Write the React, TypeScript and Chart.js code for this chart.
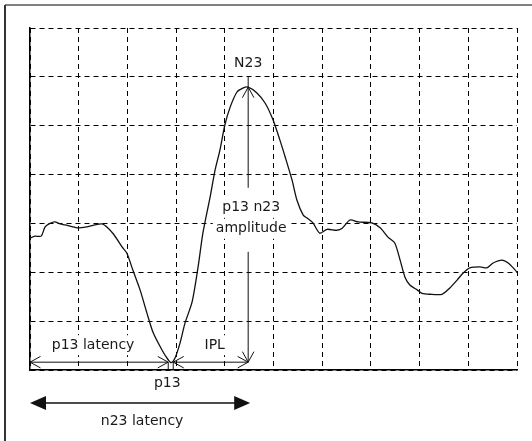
import React, { useEffect, useRef } from "react";
import { Chart, registerables } from "chart.js";

Chart.register(...registerables);

// Waveform (x: grid divisions 0..10, y: grid divisions 0..7)
const waveX = [
  0.0, 0.1, 0.23, 0.31, 0.41, 0.51, 0.62, 0.72, 0.97, 1.17, 1.48, 1.7, 1.89, 1.99,
  2.11, 2.26, 2.4, 2.53, 2.71, 2.83, 2.9, 2.98, 3.08, 3.18, 3.33, 3.45, 3.55, 3.7,
  3.8, 3.9, 4.0, 4.11, 4.25, 4.37, 4.48, 4.66, 4.83, 4.99, 5.13, 5.24, 5.38, 5.48,
  5.61, 5.69, 5.81, 5.95, 6.1, 6.3, 6.41, 6.57, 6.74, 7.02, 7.19, 7.35, 7.49, 7.6,
  7.7, 7.8, 7.95, 8.05, 8.21, 8.46, 8.62, 8.77, 8.89, 9.03, 9.24, 9.38, 9.51, 9.69,
  9.82, 9.96, 10.0,
];
const waveY = [
  2.7, 2.74, 2.74, 2.93, 3.0, 3.03, 2.99, 2.97, 2.91, 2.93, 2.99, 2.8, 2.52, 2.39,
  2.05, 1.64, 1.17, 0.76, 0.41, 0.22, 0.15, 0.25, 0.55, 0.95, 1.4, 2.1, 2.8, 3.55,
  4.09, 4.5, 5.01, 5.38, 5.69, 5.77, 5.79, 5.67, 5.46, 5.12, 4.71, 4.36, 3.89, 3.48,
  3.17, 3.11, 3.01, 2.8, 2.88, 2.86, 2.9, 3.07, 3.03, 3.01, 2.91, 2.72, 2.6, 2.25,
  1.9, 1.74, 1.64, 1.57, 1.55, 1.55, 1.68, 1.84, 1.98, 2.09, 2.11, 2.09, 2.19, 2.25,
  2.19, 2.05, 2.0,
];

// Landmarks
const p13Point = { x: 2.9, y: 0.15 };
const n23Point = { x: 4.48, y: 5.79 };
const arrowLevel = 0.16;
const ampLabelY = [3.32, 2.89];

const labelN23 = "N23";
const labelAmp = ["p13 n23", "amplitude"];
const labelP13Lat = "p13 latency";
const labelIPL = "IPL";
const labelP13 = "p13";
const labelN23Lat = "n23 latency";

const FONT = "14px 'DejaVu Sans', sans-serif";

function openHead(ctx: CanvasRenderingContext2D, tx: number, ty: number, ang: number) {
  const len = 12;
  const spread = 0.5;
  ctx.beginPath();
  ctx.moveTo(tx - len * Math.cos(ang - spread), ty - len * Math.sin(ang - spread));
  ctx.lineTo(tx, ty);
  ctx.lineTo(tx - len * Math.cos(ang + spread), ty - len * Math.sin(ang + spread));
  ctx.stroke();
}

function filledHead(ctx: CanvasRenderingContext2D, tx: number, ty: number, dir: number) {
  ctx.beginPath();
  ctx.moveTo(tx, ty);
  ctx.lineTo(tx - dir * 16, ty - 7);
  ctx.lineTo(tx - dir * 16, ty + 7);
  ctx.closePath();
  ctx.fill();
}

function boxedText(ctx: CanvasRenderingContext2D, text: string, x: number, y: number, box: boolean) {
  if (box) {
    const w = ctx.measureText(text).width;
    ctx.save();
    ctx.fillStyle = "#fff";
    ctx.fillRect(x - w / 2 - 3, y - 10, w + 6, 20);
    ctx.restore();
  }
  ctx.fillText(text, x, y);
}

const annotationPlugin = {
  id: "eegAnnotations",
  afterDraw(chart: any) {
    const { ctx, scales, chartArea } = chart;
    const xs = scales.x;
    const ys = scales.y;
    const px = (v: number) => xs.getPixelForValue(v);
    const py = (v: number) => ys.getPixelForValue(v);
    ctx.save();

    // outer frame
    ctx.strokeStyle = "#808080";
    ctx.lineWidth = 2;
    ctx.beginPath();
    ctx.moveTo(5, 5);
    ctx.lineTo(chart.width, 5);
    ctx.stroke();
    ctx.strokeStyle = "#333";
    ctx.beginPath();
    ctx.moveTo(5, 5);
    ctx.lineTo(5, chart.height);
    ctx.stroke();

    const xP = px(p13Point.x);
    const xN = px(n23Point.x);
    const yA = py(arrowLevel);
    const yPk = py(n23Point.y);
    const xL = px(0);
    const xPl = xP - 3;
    const xPr = xP + 2;

    // texts (with white boxes inside the plot)
    ctx.font = FONT;
    ctx.fillStyle = "#1a1a1a";
    ctx.textAlign = "center";
    ctx.textBaseline = "middle";
    boxedText(ctx, labelN23, xN, py(6) - 13, false);
    boxedText(ctx, labelAmp[0], xN + 3, py(ampLabelY[0]), true);
    boxedText(ctx, labelAmp[1], xN + 3, py(ampLabelY[1]), true);
    boxedText(ctx, labelP13Lat, (xL + xPl) / 2 - 6, yA - 17, true);
    boxedText(ctx, labelIPL, (xPr + xN) / 2 + 4, yA - 17, true);
    boxedText(ctx, labelP13, xP - 4, chartArea.bottom + 13, false);
    boxedText(ctx, labelN23Lat, (xL + xN) / 2 + 3, chartArea.bottom + 51, false);

    ctx.strokeStyle = "#111";
    ctx.fillStyle = "#111";
    ctx.lineWidth = 1;

    // amplitude vertical arrow
    const gapTop = py(ampLabelY[0]) - 20;
    const gapBot = py(ampLabelY[1]) + 23;
    ctx.beginPath();
    ctx.moveTo(xN, py(6));
    ctx.lineTo(xN, gapTop);
    ctx.moveTo(xN, gapBot);
    ctx.lineTo(xN, yA);
    ctx.stroke();
    openHead(ctx, xN, yPk, -Math.PI / 2);
    openHead(ctx, xN, yA, Math.PI / 2);

    // p13 latency arrow
    ctx.beginPath();
    ctx.moveTo(xL, yA);
    ctx.lineTo(xPl, yA);
    ctx.stroke();
    openHead(ctx, xL, yA, Math.PI);
    openHead(ctx, xPl, yA, 0);

    // IPL arrow
    ctx.beginPath();
    ctx.moveTo(xPr, yA);
    ctx.lineTo(xN, yA);
    ctx.stroke();
    openHead(ctx, xPr, yA, Math.PI);
    openHead(ctx, xN, yA, 0);

    // small p13 marker
    ctx.beginPath();
    ctx.moveTo(xPl, yA);
    ctx.lineTo(xPl, chartArea.bottom);
    ctx.moveTo(xPr, yA);
    ctx.lineTo(xPr, chartArea.bottom);
    ctx.stroke();

    // n23 latency arrow (filled heads) below axis
    const yN = chartArea.bottom + 33;
    ctx.lineWidth = 1.5;
    ctx.beginPath();
    ctx.moveTo(xL + 10, yN);
    ctx.lineTo(xN - 8, yN);
    ctx.stroke();
    filledHead(ctx, xL, yN, -1);
    filledHead(ctx, xN + 2, yN, 1);

    ctx.restore();
  },
};

export default function App() {
  const ref = useRef<HTMLCanvasElement | null>(null);

  useEffect(() => {
    if (!ref.current) return;
    const data = waveX.map((x, i) => ({ x, y: waveY[i] }));
    const chart = new Chart(ref.current, {
      type: "scatter",
      data: {
        datasets: [
          {
            data,
            showLine: true,
            borderColor: "#111",
            borderWidth: 1.3,
            pointRadius: 0,
            tension: 0.25,
            fill: false,
          },
        ],
      },
      options: {
        responsive: false,
        animation: false,
        layout: { padding: { left: 30, top: 28, right: 15, bottom: 71 } },
        plugins: { legend: { display: false }, tooltip: { enabled: false } },
        scales: {
          x: {
            type: "linear",
            min: 0,
            max: 10,
            ticks: { display: false, stepSize: 1 },
            grid: { color: "#000", lineWidth: 1, drawTicks: false },
            border: { display: true, color: "#000", width: 1.5, dash: [5, 4] },
          },
          y: {
            type: "linear",
            min: 0,
            max: 7,
            ticks: { display: false, stepSize: 1 },
            grid: { color: "#000", lineWidth: 1, drawTicks: false },
            border: { display: true, color: "#000", width: 1.5, dash: [5, 4] },
          },
        },
      },
      plugins: [annotationPlugin],
    });
    return () => chart.destroy();
  }, []);

  return (
    <div style={{ position: "absolute", left: 0, top: 0, width: 532, height: 441, background: "#fff" }}>
      <canvas ref={ref} width={532} height={441} />
    </div>
  );
}
